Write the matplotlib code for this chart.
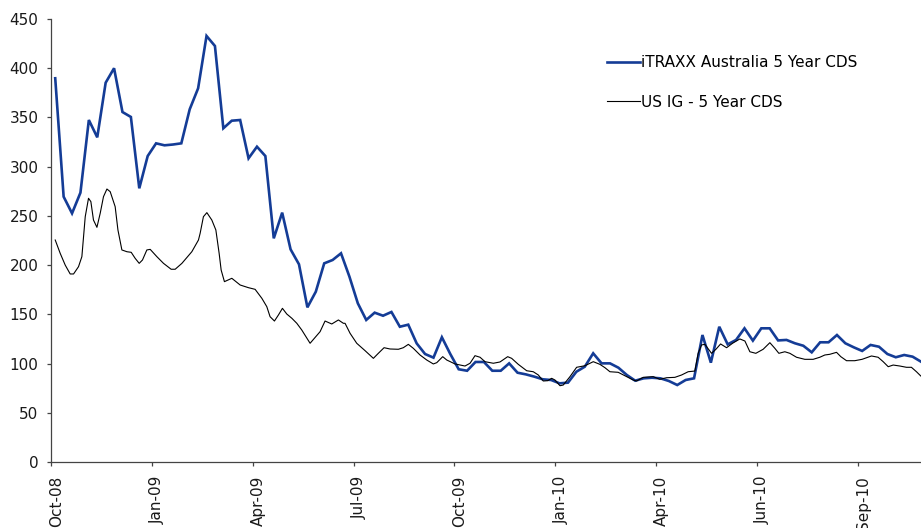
import numpy as np
import matplotlib
matplotlib.use("Agg")
import matplotlib.pyplot as plt
import matplotlib.transforms as mtransforms

# weekly iTRAXX Australia 5y CDS (bp), one value per week
itraxx = [389.8, 269.5, 252.6, 273.6, 347.4, 329.8, 385.3, 400.0, 355.5, 350.5,
          278.0, 310.8, 323.7, 321.7, 322.5, 323.7, 358.3, 379.6, 432.8, 422.6,
          339.0, 346.7, 347.4, 308.5, 320.3, 310.8, 227.2, 253.3, 216.0, 200.8,
          157.1, 173.0, 201.8, 205.2, 212.0, 188.3, 161.2, 144.3, 151.7, 148.6,
          152.4, 137.4, 139.5, 120.5, 109.7, 106.0, 126.7, 109.7, 94.2, 92.7,
          101.6, 101.6, 92.7, 92.7, 100.2, 90.7, 89.0, 86.7, 84.0, 83.3,
          79.9, 80.6, 91.7, 96.8, 110.4, 100.2, 100.2, 95.8, 88.4, 82.6,
          85.0, 85.6, 85.0, 82.3, 78.2, 83.3, 85.0, 129.0, 100.9, 137.4,
          119.5, 124.0, 135.8, 123.3, 135.8, 135.8, 123.5, 124.0, 120.6, 118.1,
          111.4, 121.6, 121.6, 129.0, 120.6, 116.5, 112.8, 118.9, 117.1, 109.7,
          106.4, 108.7, 107.0, 101.9]

# US IG 5y CDS (bp), denser readings; time in weeks since first iTRAXX obs
us_ig_week = [0.0, 0.59, 1.19, 1.78, 2.18, 2.77, 3.17, 3.57, 3.96, 4.24,
              4.55, 4.96, 5.35, 5.74, 6.15, 6.54, 7.13, 7.46, 7.93, 8.53,
              9.04, 9.51, 9.99, 10.38, 10.9, 11.3, 12.09, 12.88, 13.79, 14.27,
              15.07, 16.25, 17.04, 17.24, 17.63, 18.04, 18.63, 19.11, 19.5, 19.74,
              20.13, 21.01, 22.0, 22.98, 23.78, 24.58, 25.17, 25.56, 26.08, 26.55,
              27.03, 27.55, 28.15, 28.74, 29.33, 30.32, 31.51, 32.1, 32.9, 33.69,
              34.28, 34.48, 35.08, 35.87, 36.86, 37.85, 38.44, 39.12, 39.83, 40.82,
              41.41, 42.01, 42.6, 43.4, 44.2, 44.98, 45.39, 46.1, 46.58, 47.56,
              48.75, 49.35, 49.94, 50.54, 51.13, 52.12, 52.91, 53.83, 54.3, 55.09,
              56.09, 56.87, 57.47, 58.06, 58.59, 59.06, 59.45, 60.05, 60.44, 61.24,
              62.03, 63.02, 64.01, 64.8, 65.4, 65.99, 66.98, 67.98, 68.76, 69.16,
              69.95, 71.14, 71.93, 72.73, 73.72, 74.52, 75.3, 76.1, 76.49, 76.89,
              77.29, 78.08, 78.6, 79.16, 79.87, 80.58, 81.45, 82.05, 82.64, 83.35,
              84.22, 85.02, 85.61, 86.09, 86.8, 87.4, 88.19, 89.18, 90.17, 90.96,
              91.56, 92.15, 92.95, 93.46, 94.14, 95.12, 95.99, 97.11, 97.9, 98.5,
              99.1, 99.69, 100.48, 101.27, 101.86, 102.46, 102.97]
us_ig = [225.5, 212.0, 200.0, 191.0, 191.0, 198.4, 208.6, 249.2, 267.9, 264.5,
         245.8, 238.4, 252.6, 269.5, 277.3, 274.6, 259.4, 235.7, 215.4, 213.6,
         213.0, 206.9, 201.8, 205.2, 215.4, 216.0, 208.6, 201.8, 195.8, 195.8,
         201.8, 213.6, 225.5, 232.3, 249.2, 253.3, 245.8, 235.7, 212.0, 195.0,
         183.2, 186.6, 179.8, 177.1, 175.4, 166.3, 157.8, 147.6, 143.2, 149.3,
         156.1, 150.3, 146.0, 140.9, 134.1, 120.6, 132.4, 143.2, 140.2, 144.3,
         140.9, 140.9, 130.7, 120.6, 113.1, 105.3, 110.4, 116.1, 114.8, 114.5,
         116.1, 119.5, 115.5, 108.7, 103.6, 99.6, 100.9, 107.0, 103.6, 99.6,
         97.5, 100.3, 108.0, 106.4, 101.9, 100.3, 101.6, 107.0, 105.3, 99.2,
         92.7, 91.7, 88.4, 82.3, 82.6, 85.0, 83.3, 77.5, 78.2, 86.7,
         96.2, 97.8, 101.9, 99.2, 95.8, 91.7, 91.1, 86.7, 83.3, 82.3,
         86.0, 86.7, 84.0, 85.6, 86.0, 88.4, 91.7, 92.4, 110.4, 118.9,
         119.5, 110.4, 114.5, 119.9, 116.1, 120.6, 125.0, 122.9, 112.0, 110.4,
         114.5, 121.2, 115.5, 110.4, 112.0, 110.4, 106.4, 104.3, 104.3, 106.4,
         108.7, 109.4, 111.4, 107.0, 102.9, 102.9, 104.3, 107.7, 106.4, 101.9,
         96.8, 98.5, 97.5, 96.2, 96.2, 91.7, 87.4]

tick_labels = ["Oct-08", "Jan-09", "Apr-09", "Jul-09", "Oct-09",
               "Jan-10", "Apr-10", "Jun-10", "Sep-10"]

weeks = np.arange(len(itraxx))

fig = plt.figure(figsize=(9.21, 5.28), dpi=100)
ax = fig.add_axes([0.0554, 0.125, 0.9446, 0.839])

ax.plot(weeks, itraxx, color="#143c96", lw=1.9, label="iTRAXX Australia 5 Year CDS",
        solid_joinstyle="miter")
ax.plot(us_ig_week, us_ig, color="black", lw=0.8, label="US IG - 5 Year CDS")

ax.set_xlim(-0.5, 103.0)
ax.set_ylim(0, 450)
ax.set_yticks(np.arange(0, 451, 50))
# category style axis: a label every 12 weeks, ticks between categories
ax.set_xticks(-0.5 + 12 * np.arange(len(tick_labels)))
ax.set_xticklabels(tick_labels, rotation=90)

for s in ["top", "right"]:
    ax.spines[s].set_visible(False)
for s in ["left", "bottom"]:
    ax.spines[s].set_color("#444444")
    ax.spines[s].set_linewidth(0.9)

ax.tick_params(axis="both", colors="#444444", labelcolor="#1a1a1a", labelsize=11,
               length=3, width=0.9, direction="out")
ax.tick_params(axis="x", pad=7)
ax.tick_params(axis="y", pad=6)

shift = mtransforms.ScaledTranslation(4 / 72, 0, fig.dpi_scale_trans)
for lab in ax.get_xticklabels():
    lab.set_transform(lab.get_transform() + shift)

ax.legend(loc="upper left", bbox_to_anchor=(0.659, 0.896), bbox_transform=fig.transFigure,
          frameon=False, fontsize=11, handlelength=2.15, handletextpad=0.1,
          labelspacing=1.62, borderpad=0, borderaxespad=0)

fig.savefig("out.png", dpi=100)
